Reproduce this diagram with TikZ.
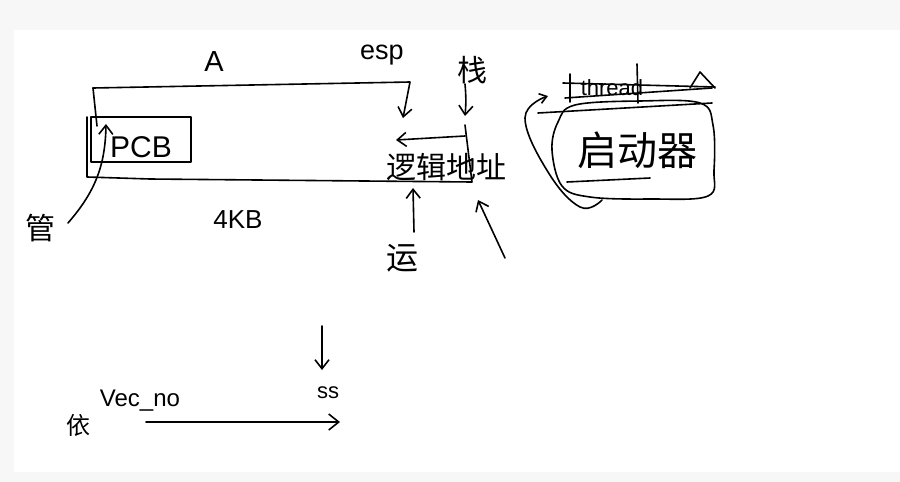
\documentclass[tikz,border=0pt]{standalone}
\usepackage{fontspec}
\setmainfont{Liberation Sans}
\newfontfamily\cjk{Noto Sans CJK SC}[Scale=1]
\usetikzlibrary{arrows.meta}
\begin{document}
\begin{tikzpicture}[x=1pt,y=-1pt,
  ink/.style={line width=1.6pt, line cap=round, line join=round, black},
  barb/.style={-{Straight Barb[length=9pt,width=14pt,line width=1.6pt]}},
  lbl/.style={inner sep=0pt, text=black},
  cjklbl/.style={inner sep=0pt, text=black, font=\cjk}]
\useasboundingbox (0,0) rectangle (900,482);
\fill[black!3] (0,0) rectangle (900,482);
\fill[white] (14,30) rectangle (900,472);

% labels
\node[lbl, font=\fontsize{29}{29}\selectfont] (A) at (214,62) {A};
\node[lbl, font=\fontsize{27}{27}\selectfont] (esp) at (382,55) {esp};
\node[cjklbl, font=\cjk\fontsize{30}{30}\selectfont] (zhan) at (472,70) {栈};
\node[lbl, font=\fontsize{30}{30}\selectfont] (pcb) at (141,147) {PCB};
\node[cjklbl, font=\cjk\fontsize{30}{30}\selectfont] (guan) at (40,228) {管};
\node[lbl, font=\fontsize{26}{26}\selectfont] (kb) at (238,220) {4KB};
\node[cjklbl, font=\cjk\fontsize{30}{30}\selectfont] (addr) at (446,167) {逻辑地址};
\node[cjklbl, font=\cjk\fontsize{32}{32}\selectfont] (yun) at (402,258) {运};
\node[cjklbl, font=\cjk\fontsize{40}{40}\selectfont] (qdq) at (637,150) {启动器};
\node[lbl, font=\fontsize{22}{22}\selectfont] (thread) at (612,88) {thread};
\node[lbl, font=\fontsize{24}{24}\selectfont] (vec) at (140,401) {Vec\_no};
\node[lbl, font=\fontsize{22}{22}\selectfont] (ss) at (328,393) {ss};
\node[cjklbl, font=\cjk\fontsize{24}{24}\selectfont] (yi) at (78,425) {依};

% coordinates
\coordinate (topL) at (93,88);
\coordinate (espC) at (410,82);
\coordinate (espTip) at (403,118);
\coordinate (bl1) at (87,117);
\coordinate (bl2) at (87,177);
\coordinate (br) at (472,182);
\coordinate (rtop) at (465,125);
\coordinate (stkR) at (465,136);
\coordinate (stkL) at (396,140);
\coordinate (zhanS) at (465,84);
\coordinate (zhanE) at (465,116);
\coordinate (pcb1) at (91,117);
\coordinate (pcb2) at (191,162);
\coordinate (guanS) at (68,223);
\coordinate (guanE) at (106,124);
\coordinate (yunS) at (414,232);
\coordinate (yunE) at (413,188);
\coordinate (diagS) at (505,258);
\coordinate (diagE) at (478,200);
\coordinate (ssS) at (322,326);
\coordinate (ssE) at (322,370);
\coordinate (vecS) at (146,422);
\coordinate (vecE) at (340,422);

% process A memory block
\draw[ink, barb] (topL) -- (espC) -- (espTip);
\draw[ink] (topL) -- (97,126);
\draw[ink] (bl1) -- (bl2) -- (150,179) -- (br) -- (rtop);
\draw[ink, barb] (stkR) -- (stkL);
\draw[ink, barb] (zhanS) to[bend left=5] (zhanE);
% PCB
\draw[ink] (pcb1) rectangle (pcb2);
\draw[ink, barb] (guanS) to[bend right=20] (guanE);
% arrows to address
\draw[ink, barb] (yunS) -- (yunE);
\draw[ink, barb] (diagS) -- (diagE);

% launcher blob
\draw[ink] plot[smooth cycle, tension=0.6] coordinates {(575,105) (640,101) (700,103) (713,125) (714,170) (708,196) (650,199) (590,197) (562,186) (552,150) (558,122)};
\draw[ink] (567,182) -- (650,178);
\draw[ink] (538,113) -- (712,103);
\draw[ink, -{Straight Barb[length=7pt,width=10pt,line width=1.6pt]}] plot[smooth, tension=0.7] coordinates {(602,200) (580,207) (548,172) (525,118) (548,96)};

% crossed-out thread A
\draw[ink] (563,83) -- (715,87);
\draw[ink] (565,98) -- (712,88);
\draw[ink] (570,74) -- (570,102);
\draw[ink] (637,64) -- (638,103);
\draw[ink] (690,88) -- (700,72) -- (715,88);

% bottom arrows
\draw[ink, barb] (ssS) -- (ssE);
\draw[ink, -{Straight Barb[length=10pt,width=16pt,line width=1.6pt]}] (vecS) -- (vecE);
\end{tikzpicture}
\end{document}
